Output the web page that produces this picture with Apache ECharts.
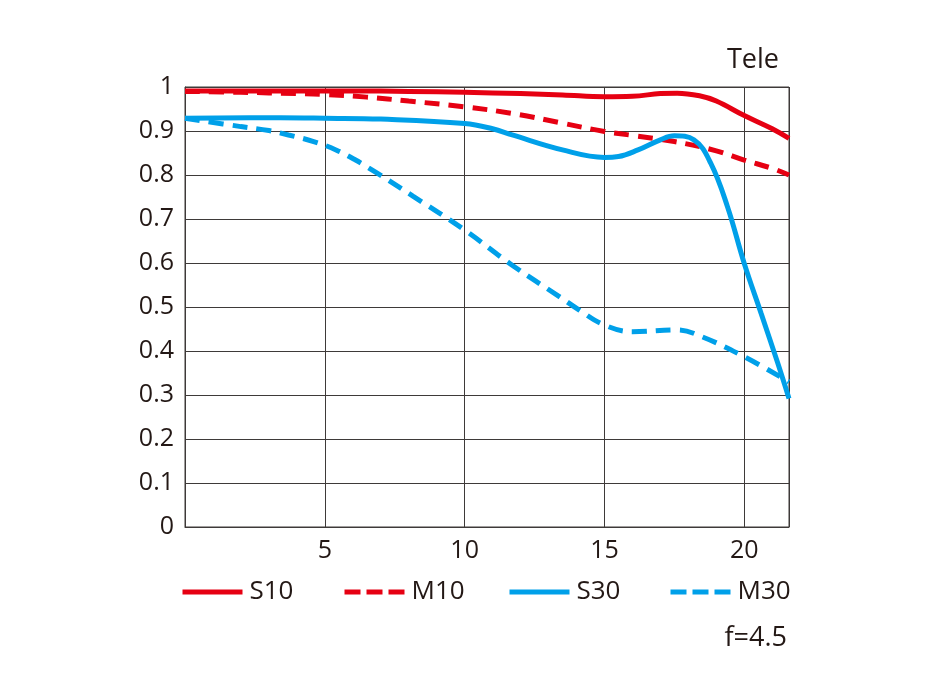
<!DOCTYPE html>
<html lang="en">
<head>
	<meta charset="UTF-8">
	<script src="https://cdn.jsdelivr.net/npm/echarts@6/dist/echarts.min.js"></script>
	<title>MTF Tele</title>
	<style>
		html, body { margin: 0; padding: 0; background: #fff; }
	</style>
</head>
<body>
<div id="mtf" style="width: 932px;height:700px;"></div>
<script type="text/javascript">
	// 数据（像高 mm -> MTF）
	var s10X = [0, 2, 4, 6, 8, 10, 12, 13.5, 15, 16, 17, 17.6, 18.4, 19, 20, 21, 21.6];
	var s10Y = [0.991, 0.991, 0.991, 0.991, 0.990, 0.988, 0.985, 0.982, 0.978, 0.979, 0.985, 0.986, 0.980, 0.968, 0.935, 0.905, 0.883];

	var m10X = [0, 2, 4, 5, 6.5, 8, 10, 11.7, 13.4, 15, 16, 17.5, 19, 20, 21, 21.6];
	var m10Y = [0.990, 0.988, 0.985, 0.983, 0.977, 0.968, 0.955, 0.940, 0.919, 0.899, 0.890, 0.876, 0.855, 0.834, 0.815, 0.800];

	var s30X = [0, 3.4, 5, 7, 10, 11, 11.7, 13.5, 15, 15.5, 16.2, 17, 17.5, 18.2, 18.8, 19.4, 20, 20.6, 21.2, 21.6];
	var s30Y = [0.929, 0.930, 0.929, 0.927, 0.917, 0.905, 0.891, 0.857, 0.840, 0.842, 0.857, 0.880, 0.889, 0.880, 0.827, 0.728, 0.599, 0.486, 0.372, 0.292];

	var m30X = [0, 2, 3, 3.7, 4.6, 5.4, 6.1, 6.8, 8.15, 10, 11.7, 13.4, 14.1, 15, 16, 17.6, 18.5, 20, 21.6];
	var m30Y = [0.929, 0.910, 0.901, 0.891, 0.876, 0.857, 0.834, 0.807, 0.752, 0.675, 0.595, 0.523, 0.493, 0.459, 0.444, 0.448, 0.432, 0.387, 0.330];

	var seriesNames = ['S10', 'M10', 'S30', 'M30'];
	var xTicks = [5, 10, 15, 20];

	function pairs(xs, ys) {
		return xs.map(function (x, i) { return [x, ys[i]]; });
	}

	var red = '#E60012';
	var blue = '#00A0E9';
	var ink = '#231815';
	var gridColor = '#3e3a39';
	var font = '"Open Sans", "Noto Sans", sans-serif';

	var chart = echarts.init(document.getElementById('mtf'));

	function lineSeries(name, data, color, dashed) {
		return {
			name: name,
			type: 'line',
			data: data,
			smooth: 0.4,
			symbol: 'none',
			lineStyle: {
				color: color,
				width: 5,
				type: dashed ? [15, 9] : 'solid'
			},
			itemStyle: { color: color }
		};
	}

	// 每个图例单独定位
	function legendAt(name, left, dashed) {
		return {
			data: [name],
			left: left,
			top: 579,
			padding: 0,
			itemWidth: 60,
			itemHeight: 14,
			itemGap: 0,
			itemStyle: { opacity: 0 },
			lineStyle: { width: 5, type: dashed ? [16, 6] : 'solid' },
			textStyle: { fontSize: 26, color: ink, fontFamily: font, padding: [0, 0, 0, 2] }
		};
	}

	var option = {
		animation: false,
		backgroundColor: '#fff',
		grid: {
			left: 185,
			right: 143,
			top: 87,
			bottom: 173,
			show: true,
			borderColor: gridColor,
			borderWidth: 1
		},
		legend: [
			legendAt(seriesNames[0], 180, false),
			legendAt(seriesNames[1], 342, true),
			legendAt(seriesNames[2], 507, false),
			legendAt(seriesNames[3], 668, true)
		],
		xAxis: {
			type: 'value',
			min: 0,
			max: 21.6,
			interval: 5,
			axisLine: { show: true, lineStyle: { color: gridColor, width: 1 } },
			axisTick: { show: false },
			splitLine: { show: true, lineStyle: { color: gridColor, width: 1 } },
			axisLabel: {
				margin: 11,
				fontSize: 25,
				color: ink,
				fontFamily: font,
				formatter: function (v) {
					return xTicks.indexOf(v) >= 0 ? String(v) : '';
				}
			}
		},
		yAxis: {
			type: 'value',
			min: 0,
			max: 1,
			interval: 0.1,
			axisLine: { show: true, lineStyle: { color: gridColor, width: 1 } },
			axisTick: { show: false },
			splitLine: { show: true, lineStyle: { color: gridColor, width: 1 } },
			axisLabel: {
				margin: 11,
				fontSize: 25,
				color: ink,
				fontFamily: font,
				formatter: function (v) {
					return String(Math.round(v * 10) / 10);
				}
			}
		},
		graphic: [
			{
				type: 'text',
				x: 779,
				y: 60,
				style: {
					text: 'Tele', fontSize: 27, fill: ink, fontFamily: font,
					align: 'right', verticalAlign: 'middle'
				}
			},
			{
				type: 'text',
				x: 787,
				y: 638,
				style: {
					text: 'f=4.5', fontSize: 27, fill: ink, fontFamily: font,
					align: 'right', verticalAlign: 'middle'
				}
			}
		],
		series: [
			lineSeries('S10', pairs(s10X, s10Y), red, false),
			lineSeries('M10', pairs(m10X, m10Y), red, true),
			lineSeries('S30', pairs(s30X, s30Y), blue, false),
			lineSeries('M30', pairs(m30X, m30Y), blue, true)
		]
	};
	chart.setOption(option);
</script>
</body>
</html>
